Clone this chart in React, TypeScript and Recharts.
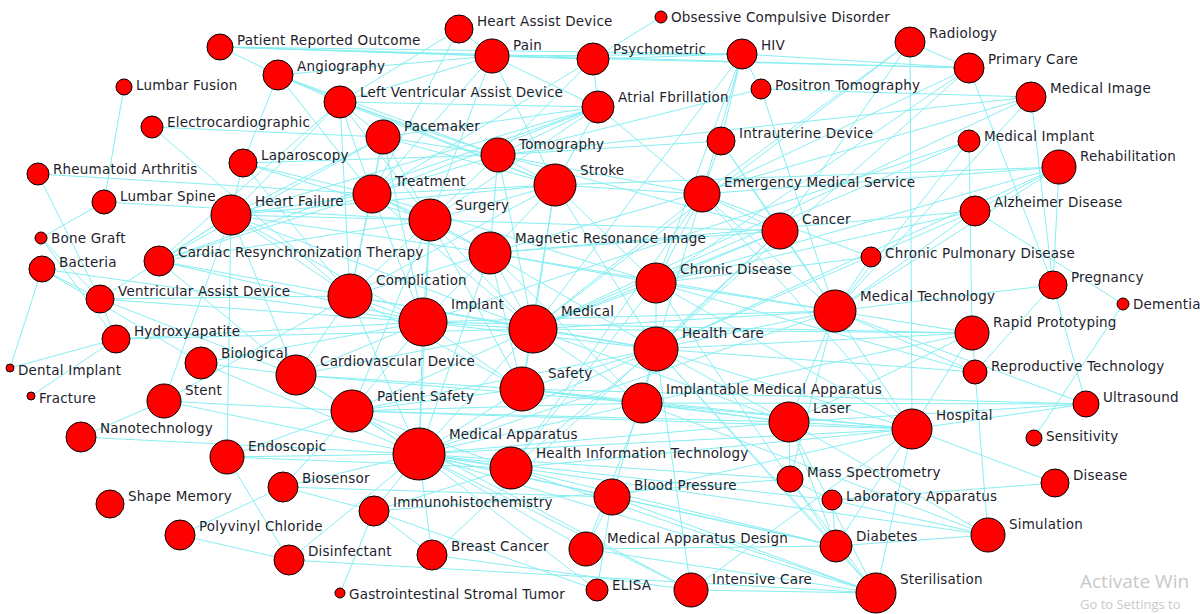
import { ScatterChart, Scatter, XAxis, YAxis, ReferenceLine } from 'recharts';

// node table: name, x, y (picture coordinates), node size
const nodeNames = [
  'Heart Assist Device', 'Obsessive Compulsive Disorder', 'Patient Reported Outcome', 'Pain', 'Psychometric',
  'HIV', 'Radiology', 'Primary Care', 'Angiography', 'Lumbar Fusion',
  'Positron Tomography', 'Medical Image', 'Left Ventricular Assist Device', 'Atrial Fbrillation', 'Electrocardiographic',
  'Pacemaker', 'Intrauterine Device', 'Medical Implant', 'Tomography', 'Laparoscopy',
  'Rehabilitation', 'Rheumatoid Arthritis', 'Stroke', 'Treatment', 'Emergency Medical Service',
  'Lumbar Spine', 'Heart Failure', 'Surgery', 'Alzheimer Disease', 'Cancer',
  'Bone Graft', 'Magnetic Resonance Image', 'Cardiac Resynchronization Therapy', 'Chronic Pulmonary Disease', 'Bacteria',
  'Chronic Disease', 'Pregnancy', 'Ventricular Assist Device', 'Complication', 'Medical Technology',
  'Dementia', 'Implant', 'Medical', 'Rapid Prototyping', 'Hydroxyapatite',
  'Health Care', 'Biological', 'Dental Implant', 'Cardiovascular Device', 'Reproductive Technology',
  'Safety', 'Fracture', 'Stent', 'Implantable Medical Apparatus', 'Patient Safety',
  'Ultrasound', 'Laser', 'Hospital', 'Nanotechnology', 'Sensitivity',
  'Medical Apparatus', 'Endoscopic', 'Health Information Technology', 'Mass Spectrometry', 'Disease',
  'Biosensor', 'Blood Pressure', 'Laboratory Apparatus', 'Shape Memory', 'Immunohistochemistry',
  'Simulation', 'Polyvinyl Chloride', 'Medical Apparatus Design', 'Diabetes', 'Breast Cancer',
  'Disinfectant', 'ELISA', 'Intensive Care', 'Sterilisation', 'Gastrointestinal Stromal Tumor',
];
const nodeX = [
  459, 661, 220, 492, 593, 742, 910, 969, 278, 124,
  761, 1031, 340, 598, 152, 383, 721, 969, 498, 243,
  1059, 38, 555, 372, 702, 104, 231, 430, 975, 780,
  41, 490, 159, 871, 42, 656, 1053, 100, 350, 835,
  1123, 423, 533, 972, 116, 656, 201, 10, 296, 975,
  522, 31, 164, 642, 352, 1086, 789, 912, 81, 1034,
  419, 227, 511, 790, 1055, 283, 612, 832, 110, 374,
  988, 180, 586, 836, 432, 289, 597, 691, 876, 340,
];
const nodeY = [
  29, 17, 47, 56, 59, 54, 42, 68, 75, 87,
  89, 97, 102, 107, 127, 137, 141, 141, 155, 163,
  167, 174, 185, 194, 194, 202, 215, 220, 211, 231,
  238, 253, 261, 257, 269, 283, 285, 299, 296, 311,
  304, 322, 329, 333, 339, 349, 363, 368, 375, 372,
  389, 396, 401, 403, 411, 404, 422, 429, 437, 438,
  454, 457, 468, 479, 483, 487, 497, 500, 504, 511,
  535, 535, 549, 546, 555, 560, 590, 590, 593, 593,
];
const nodeSize = [
  14, 6, 13, 17, 16, 15, 15, 15, 15, 8,
  10, 15, 16, 16, 11, 17, 14, 11, 17, 14,
  17, 11, 21, 19, 18, 12, 20, 21, 15, 18,
  6, 21, 15, 10, 13, 20, 14, 14, 22, 21,
  6, 24, 24, 17, 14, 22, 16, 4, 20, 12,
  22, 4, 17, 20, 21, 13, 20, 20, 15, 8,
  26, 17, 21, 13, 14, 15, 18, 10, 14, 15,
  17, 15, 17, 16, 15, 15, 11, 17, 20, 5,
];

// co-occurrence links: node -> neighbours
const links: [string, string[]][] = [
  ['Lumbar Fusion', ['Lumbar Spine']],
  ['Rheumatoid Arthritis', ['Ventricular Assist Device', 'Treatment']],
  ['Lumbar Spine', ['Bone Graft', 'Surgery']],
  ['Electrocardiographic', ['Pacemaker', 'Complication']],
  ['Bone Graft', ['Hydroxyapatite', 'Ventricular Assist Device']],
  ['Bacteria', ['Ventricular Assist Device', 'Dental Implant', 'Implant', 'Biological']],
  ['Dental Implant', ['Hydroxyapatite']],
  ['Fracture', ['Hydroxyapatite']],
  ['Hydroxyapatite', ['Implant', 'Ventricular Assist Device', 'Medical']],
  ['Ventricular Assist Device', ['Heart Failure', 'Complication', 'Implant', 'Cardiovascular Device']],
  ['Nanotechnology', ['Stent', 'Medical Apparatus']],
  ['Stent', ['Complication', 'Medical Apparatus', 'Heart Failure', 'Patient Safety']],
  ['Biological', ['Medical Apparatus', 'Implant', 'Cardiovascular Device']],
  ['Endoscopic', ['Heart Failure', 'Medical Apparatus', 'Disinfectant', 'Health Information Technology', 'Patient Safety']],
  ['Biosensor', ['Medical Apparatus', 'Polyvinyl Chloride', 'Blood Pressure', 'Immunohistochemistry', 'Patient Safety']],
  ['Polyvinyl Chloride', ['Disinfectant']],
  ['Disinfectant', ['Sterilisation', 'Medical Apparatus']],
  ['Immunohistochemistry', ['Gastrointestinal Stromal Tumor', 'Breast Cancer', 'Medical Apparatus', 'ELISA', 'Health Information Technology', 'Mass Spectrometry']],
  ['Breast Cancer', ['Medical Apparatus', 'Cancer', 'Intensive Care']],
  ['ELISA', ['Medical Apparatus', 'Blood Pressure']],
  ['Medical Apparatus Design', ['Medical Apparatus', 'Blood Pressure', 'Sterilisation', 'Diabetes', 'Implantable Medical Apparatus']],
  ['Intensive Care', ['Health Care', 'Medical Apparatus', 'Sterilisation', 'Hospital', 'Patient Safety']],
  ['Blood Pressure', ['Medical Apparatus', 'Diabetes', 'Hospital', 'Sterilisation', 'Health Care']],
  ['Health Information Technology', ['Medical Apparatus', 'Health Care', 'Hospital', 'Sterilisation', 'Diabetes', 'Patient Safety', 'Emergency Medical Service', 'Chronic Disease']],
  ['Medical Apparatus', ['Safety', 'Implant', 'Medical', 'Patient Safety', 'Cardiovascular Device', 'Complication', 'Implantable Medical Apparatus', 'Laser', 'Hospital', 'Sterilisation', 'Diabetes', 'Simulation', 'Mass Spectrometry', 'Health Care', 'Medical Technology', 'Laboratory Apparatus', 'Surgery', 'Magnetic Resonance Image']],
  ['Patient Safety', ['Safety', 'Implant', 'Health Care', 'Hospital', 'Medical', 'Cardiovascular Device', 'Implantable Medical Apparatus', 'Laser', 'Surgery']],
  ['Cardiovascular Device', ['Implant', 'Complication', 'Heart Failure', 'Medical', 'Safety', 'Implantable Medical Apparatus', 'Cardiac Resynchronization Therapy']],
  ['Safety', ['Medical', 'Implant', 'Health Care', 'Implantable Medical Apparatus', 'Hospital', 'Laser', 'Complication', 'Surgery', 'Stroke', 'Ultrasound']],
  ['Implantable Medical Apparatus', ['Health Care', 'Laser', 'Hospital', 'Ultrasound', 'Medical', 'Simulation', 'Rapid Prototyping']],
  ['Laser', ['Hospital', 'Medical Technology', 'Ultrasound', 'Health Care', 'Mass Spectrometry', 'Diabetes', 'Sterilisation', 'Simulation', 'Medical', 'Rapid Prototyping']],
  ['Hospital', ['Disease', 'Health Care', 'Medical Technology', 'Radiology', 'Sterilisation', 'Emergency Medical Service', 'Diabetes', 'Rapid Prototyping', 'Ultrasound', 'Chronic Disease']],
  ['Disease', ['Laboratory Apparatus']],
  ['Simulation', ['Diabetes', 'Laboratory Apparatus', 'Rapid Prototyping']],
  ['Diabetes', ['Sterilisation', 'Chronic Disease', 'Health Care', 'Laboratory Apparatus']],
  ['Sterilisation', ['Mass Spectrometry', 'Health Care']],
  ['Mass Spectrometry', ['Medical Technology', 'Laboratory Apparatus']],
  ['Health Care', ['Medical', 'Chronic Disease', 'Medical Technology', 'Emergency Medical Service', 'Cancer', 'Implant', 'Stroke', 'Primary Care', 'Rehabilitation', 'Alzheimer Disease', 'Reproductive Technology', 'Rapid Prototyping', 'Complication', 'Magnetic Resonance Image']],
  ['Medical', ['Implant', 'Magnetic Resonance Image', 'Complication', 'Chronic Disease', 'Stroke', 'Surgery', 'Medical Technology', 'Tomography', 'Medical Image', 'Medical Implant', 'Cancer', 'Emergency Medical Service', 'Treatment', 'Rapid Prototyping', 'Heart Failure', 'HIV', 'Radiology']],
  ['Implant', ['Complication', 'Surgery', 'Magnetic Resonance Image', 'Heart Failure', 'Medical Implant', 'Treatment', 'Pacemaker', 'Cardiac Resynchronization Therapy', 'Rapid Prototyping', 'Medical Technology']],
  ['Complication', ['Surgery', 'Heart Failure', 'Treatment', 'Cardiac Resynchronization Therapy', 'Left Ventricular Assist Device', 'Magnetic Resonance Image', 'Pacemaker', 'Stroke', 'Laparoscopy']],
  ['Heart Failure', ['Cardiac Resynchronization Therapy', 'Left Ventricular Assist Device', 'Pacemaker', 'Treatment', 'Stroke', 'Atrial Fbrillation', 'Laparoscopy', 'Surgery', 'Magnetic Resonance Image']],
  ['Cardiac Resynchronization Therapy', ['Pacemaker', 'Left Ventricular Assist Device', 'Treatment', 'Atrial Fbrillation', 'Surgery']],
  ['Laparoscopy', ['Surgery', 'Angiography', 'Treatment', 'Tomography']],
  ['Angiography', ['Patient Reported Outcome', 'Left Ventricular Assist Device', 'Tomography', 'Stroke', 'Treatment', 'Pain']],
  ['Patient Reported Outcome', ['Pain', 'Psychometric', 'HIV', 'Primary Care']],
  ['Heart Assist Device', ['Pain', 'Left Ventricular Assist Device', 'Treatment']],
  ['Pain', ['Psychometric', 'HIV', 'Treatment', 'Surgery', 'Stroke', 'Left Ventricular Assist Device', 'Primary Care', 'Atrial Fbrillation']],
  ['Psychometric', ['HIV', 'Obsessive Compulsive Disorder', 'Atrial Fbrillation', 'Tomography', 'Treatment']],
  ['HIV', ['Primary Care', 'Chronic Disease', 'Emergency Medical Service', 'Positron Tomography']],
  ['Positron Tomography', ['Medical Technology', 'Tomography']],
  ['Radiology', ['Emergency Medical Service', 'Cancer', 'Primary Care']],
  ['Primary Care', ['Pregnancy', 'Chronic Disease', 'Emergency Medical Service']],
  ['Medical Image', ['Magnetic Resonance Image', 'Tomography', 'Medical Technology', 'Pregnancy', 'Positron Tomography']],
  ['Medical Implant', ['Rapid Prototyping', 'Medical Technology']],
  ['Rehabilitation', ['Stroke', 'Medical Technology', 'Chronic Disease', 'Alzheimer Disease', 'Emergency Medical Service', 'Pregnancy']],
  ['Alzheimer Disease', ['Dementia', 'Chronic Disease', 'Medical Technology', 'Magnetic Resonance Image']],
  ['Chronic Pulmonary Disease', ['Chronic Disease', 'Medical Technology', 'Emergency Medical Service']],
  ['Pregnancy', ['Ultrasound', 'Reproductive Technology', 'Medical Technology']],
  ['Sensitivity', ['Dementia']],
  ['Reproductive Technology', ['Medical Technology', 'Chronic Disease']],
  ['Rapid Prototyping', ['Medical Technology']],
  ['Ultrasound', ['Medical Technology']],
  ['Medical Technology', ['Chronic Disease', 'Cancer', 'Emergency Medical Service', 'Magnetic Resonance Image']],
  ['Chronic Disease', ['Cancer', 'Emergency Medical Service', 'Stroke', 'Magnetic Resonance Image', 'Treatment']],
  ['Cancer', ['Emergency Medical Service', 'Magnetic Resonance Image', 'Surgery', 'Tomography', 'Intrauterine Device']],
  ['Emergency Medical Service', ['Stroke', 'Intrauterine Device', 'Atrial Fbrillation', 'Tomography']],
  ['Intrauterine Device', ['Medical Technology', 'Tomography', 'HIV']],
  ['Stroke', ['Atrial Fbrillation', 'Tomography', 'Magnetic Resonance Image', 'Surgery', 'Treatment', 'Pacemaker', 'Left Ventricular Assist Device']],
  ['Tomography', ['Magnetic Resonance Image', 'Pacemaker', 'Surgery', 'Treatment', 'Left Ventricular Assist Device', 'Atrial Fbrillation']],
  ['Atrial Fbrillation', ['Pacemaker', 'Left Ventricular Assist Device', 'Treatment', 'Surgery']],
  ['Pacemaker', ['Left Ventricular Assist Device', 'Treatment', 'Surgery']],
  ['Left Ventricular Assist Device', ['Treatment', 'Surgery']],
  ['Treatment', ['Surgery', 'Magnetic Resonance Image']],
  ['Surgery', ['Magnetic Resonance Image']],
  ['Magnetic Resonance Image', ['Safety', 'Implantable Medical Apparatus']],
];

const nodes = nodeNames.map((name, i) => ({ name, x: nodeX[i], y: nodeY[i], size: nodeSize[i] }));
const byName = new Map(nodes.map((n) => [n.name, n]));
const edges = links.flatMap(([from, tos]) => tos.map((to) => [byName.get(from)!, byName.get(to)!]));

const EDGE = '#86eef2';
const FONT = '"DejaVu Sans", Verdana, sans-serif';

const NodeShape = (props: any) => {
  const { cx, cy, payload } = props;
  const r = payload.size;
  return (
    <g>
      <circle cx={cx} cy={cy} r={r} fill="#ff0000" stroke="#000" strokeWidth={1} />
      <text
        x={cx + r + 4}
        y={cy - r + 6}
        dominantBaseline="central"
        fontFamily={FONT}
        fontSize={13.5}
        letterSpacing={0.2}
        fill="#1e1e2c"
      >
        {payload.name}
      </text>
    </g>
  );
};

export default function App() {
  return (
    <div style={{ position: 'absolute', left: 0, top: 0, width: 1200, height: 614, background: '#fff', overflow: 'hidden' }}>
      <ScatterChart width={1200} height={614} margin={{ top: 0, right: 0, bottom: 0, left: 0 }}>
        <XAxis type="number" dataKey="x" domain={[0, 1200]} hide />
        <YAxis type="number" dataKey="y" domain={[0, 614]} reversed hide />
        {edges.map(([a, b], i) => (
          <ReferenceLine
            key={i}
            segment={[{ x: a.x, y: a.y }, { x: b.x, y: b.y }]}
            stroke={EDGE}
            strokeWidth={1}
            ifOverflow="visible"
          />
        ))}
        <Scatter data={nodes} shape={<NodeShape />} isAnimationActive={false} />
      </ScatterChart>
      <div style={{ position: 'absolute', left: 1080, top: 572, fontFamily: '"Open Sans", sans-serif', color: '#c9c9c9', whiteSpace: 'nowrap', lineHeight: 1 }}>
        <div style={{ fontSize: 19 }}>Activate Win</div>
        <div style={{ fontSize: 13, marginTop: 7 }}>Go to Settings to</div>
      </div>
    </div>
  );
}
